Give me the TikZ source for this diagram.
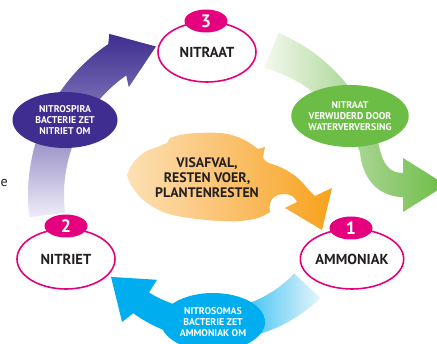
\documentclass[tikz,border=0pt]{standalone}
\usepackage{fontspec}
\setmainfont{PT Sans}
\usetikzlibrary{shapes.geometric}
\definecolor{mag}{HTML}{E5007E}
\definecolor{purp}{HTML}{3F2E8F}
\definecolor{purpM}{HTML}{8A80C0}
\definecolor{purpL}{HTML}{EFEDF8}
\definecolor{grn}{HTML}{6CBD45}
\definecolor{grnM}{HTML}{AAD693}
\definecolor{grnL}{HTML}{F3F9EF}
\definecolor{blu}{HTML}{00AEEF}
\definecolor{bluL}{HTML}{E6F5FC}
\definecolor{orL}{HTML}{FDE0B4}
\definecolor{orM}{HTML}{FAC16E}
\definecolor{orR}{HTML}{F7A21B}
\definecolor{txt}{HTML}{231F20}
\tikzset{
  stage/.style={ellipse, draw=mag, line width=1.6pt, fill=white, minimum width=98pt, minimum height=60pt, inner sep=0pt, text=txt, font=\fontsize{14.5}{16}\selectfont\bfseries},
  badge/.style={ellipse, fill=mag, minimum width=43pt, minimum height=23pt, inner sep=0pt, text=white, font=\fontsize{18}{18}\selectfont\bfseries},
  lbl/.style={ellipse, minimum width=105pt, minimum height=56pt, inner sep=0pt, text=white, align=center, font=\fontsize{9.8}{11}\selectfont\bfseries},
}
\begin{document}
\begin{tikzpicture}[x=1pt,y=-1pt]
\useasboundingbox (0,0) rectangle (437,344);
% purple arrow (nitriet -> nitraat)
\shade[top color=purp, bottom color=purpL, middle color=purpM]
  plot[domain=173:236, samples=40] ({210+182*cos(\x)},{195+182*sin(\x)})
  -- ({210+190*cos(238)},{195+190*sin(238)})
  -- ({210+158*cos(250)},{195+158*sin(250)})
  -- ({210+135*cos(233)},{195+135*sin(233)})
  -- plot[domain=235:173, samples=40] ({210+146*cos(\x)},{195+146*sin(\x)})
  -- cycle;
% green arrow (nitraat removed)
\shade[left color=grnL, right color=grn, middle color=grnM]
  plot[domain=293:344, samples=40] ({210+176*cos(\x)},{195+176*sin(\x)})
  .. controls (383,165) and (390,173) .. (403,173)
  -- (403,158) -- (446,185) -- (403,212) -- (403,197)
  .. controls (378,197) and (362,178) .. ({210+156*cos(344)},{195+156*sin(344)})
  -- plot[domain=344:293, samples=40] ({210+(138+(\x-293)*18/51)*cos(\x)},{195+(138+(\x-293)*18/51)*sin(\x)})
  -- cycle;
% blue arrow (ammoniak -> nitriet)
\shade[left color=blu, right color=bluL, middle color=blu]
  plot[domain=43:123, samples=40] ({210+(151-(\x-43)*10/80)*cos(\x)},{195+(151-(\x-43)*10/80)*sin(\x)})
  -- ({210+154.5*cos(124.7)},{195+154.5*sin(124.7)})
  -- ({210+128.5*cos(140.4)},{195+128.5*sin(140.4)})
  -- ({210+100*cos(122)},{195+100*sin(122)})
  -- plot[domain=122:43, samples=40] ({210+115*cos(\x)},{195+115*sin(\x)})
  -- cycle;
% orange leaf
\shade[left color=orL, right color=orR, middle color=orM]
  plot[smooth, tension=0.6] coordinates {(270,212) (258,218) (240,221) (220,221) (197,219) (177,216) (163,212) (150,205) (140,197) (131,185) (127,175)}
  -- plot[smooth, tension=0.6] coordinates {(127,175) (133,163) (145,152) (157,147) (167,143)}
  -- plot[smooth, tension=0.6] coordinates {(170,138) (180,135) (197,133) (220,133) (235,136) (248,142) (258,149)}
  -- (265,147)
  -- plot[smooth, tension=0.6] coordinates {(263,157) (267,162) (280,167) (291,173) (300,180) (308,189) (315,196)}
  -- (332,188) -- (322,230) -- (285,208) -- (297,202)
  -- plot[smooth, tension=0.7] coordinates {(297,202) (292,196) (283,194) (274,197) (270,204) (270,212)}
  -- cycle;
\node[text=txt, align=center, inner sep=0pt, font=\fontsize{13.8}{15}\selectfont\bfseries] (waste) at (207,178) {VISAFVAL,\\RESTEN VOER,\\PLANTENRESTEN};
% labels
\node[lbl, fill=purp] (nitrospira) at (65,120) {NITROSPIRA\\BACTERIE ZET\\NITRIET OM};
\node[lbl, fill=grn, minimum width=106pt, minimum height=62pt] (verwijderd) at (350,116) {NITRAAT\\VERWIJDERD DOOR\\WATERVERVERSING};
\node[lbl, fill=blu, minimum width=104pt, minimum height=58pt] (nitrosomas) at (213,322) {NITROSOMAS\\BACTERIE ZET\\AMMONIAK OM};
% stages
\node[stage] (nitraat) at (207,52) {NITRAAT};
\node[badge] (b3) at (206,21) {3};
\node[stage] (nitriet) at (66,259) {NITRIET};
\node[badge] (b2) at (66,226) {2};
\node[stage] (ammoniak) at (352,259) {AMMONIAK};
\node[badge] (b1) at (351,228) {1};
% edge fragment
\node[text=txt, inner sep=0pt, font=\fontsize{14}{14}\selectfont, anchor=west] (frag) at (0.5,183) {e};
\end{tikzpicture}
\end{document}
